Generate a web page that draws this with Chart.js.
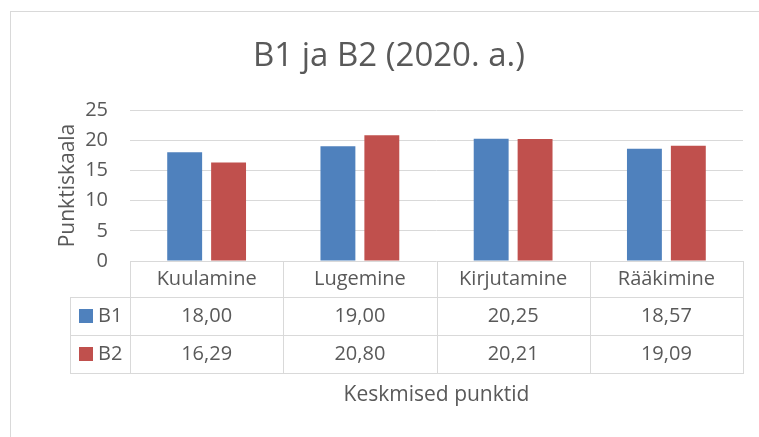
<!DOCTYPE html>
<html>
<head>
<meta charset="utf-8">
<script src="https://cdn.jsdelivr.net/npm/chart.js@4"></script>
<style>
  html, body { margin: 0; padding: 0; background: #fff; }
</style>
</head>
<body>
<canvas id="chart" width="759" height="437"></canvas>
<script>
const categories = ['Kuulamine', 'Lugemine', 'Kirjutamine', 'Rääkimine'];
const seriesNames = ['B1', 'B2'];
const b1Values = [18.00, 19.00, 20.25, 18.57];
const b2Values = [16.29, 20.80, 20.21, 19.09];
const seriesColors = ['#4f81bd', '#c0504d'];
const yTicks = [0, 5, 10, 15, 20, 25];

const lineColor = '#d9d9d9';
const textColor = '#595959';
const fontFamily = "'Open Sans', 'Noto Sans', sans-serif";

Chart.defaults.font.family = fontFamily;
Chart.defaults.color = textColor;

// data table under the plot (Excel style)
const dataTable = {
  id: 'dataTable',
  beforeDraw(chart) {
    const ctx = chart.ctx;
    ctx.save();
    ctx.strokeStyle = lineColor;
    ctx.lineWidth = 1;
    ctx.strokeRect(10.5, 11.5, 760, 440);
    ctx.restore();
  },
  afterDraw(chart) {
    const ctx = chart.ctx;
    const area = chart.chartArea;
    const x = chart.scales.x;
    const rows = [b1Values, b2Values];
    const top = area.bottom;
    const headerH = 36;
    const rowH = 38;
    const legendLeft = 70;
    const bottom = top + headerH + rowH * rows.length;

    const edges = [area.left];
    for (let i = 0; i < categories.length - 1; i++) {
      edges.push((x.getPixelForValue(i) + x.getPixelForValue(i + 1)) / 2);
    }
    edges.push(area.right);

    ctx.save();
    ctx.strokeStyle = lineColor;
    ctx.lineWidth = 1;
    ctx.beginPath();
    edges.forEach(e => {
      const px = Math.round(e) + 0.5;
      ctx.moveTo(px, top);
      ctx.lineTo(px, bottom);
    });
    ctx.moveTo(legendLeft + 0.5, top + headerH);
    ctx.lineTo(legendLeft + 0.5, bottom);
    for (let r = 0; r <= rows.length; r++) {
      const py = Math.round(top + headerH + r * rowH) + 0.5;
      ctx.moveTo(legendLeft, py);
      ctx.lineTo(area.right + 1, py);
    }
    ctx.stroke();

    ctx.font = '20px ' + fontFamily;
    ctx.textBaseline = 'middle';
    rows.forEach((vals, r) => {
      const cy = top + headerH + r * rowH + rowH / 2;
      ctx.fillStyle = seriesColors[r];
      ctx.fillRect(79, Math.round(cy - 7), 14, 14);
      ctx.fillStyle = textColor;
      ctx.textAlign = 'left';
      ctx.fillText(seriesNames[r], 98, cy);
      ctx.textAlign = 'center';
      vals.forEach((v, i) => {
        ctx.fillText(v.toFixed(2).replace('.', ','), x.getPixelForValue(i), cy);
      });
    });
    ctx.restore();
  }
};

new Chart(document.getElementById('chart'), {
  type: 'bar',
  data: {
    labels: categories,
    datasets: [
      { label: seriesNames[0], data: b1Values, backgroundColor: seriesColors[0] },
      { label: seriesNames[1], data: b2Values, backgroundColor: seriesColors[1] }
    ]
  },
  options: {
    responsive: false,
    animation: false,
    devicePixelRatio: 1,
    barPercentage: 0.795,
    categoryPercentage: 0.573,
    layout: { padding: { left: 35, right: 16, top: 0, bottom: 0 } },
    plugins: {
      legend: { display: false },
      tooltip: { enabled: false },
      title: {
        display: true,
        text: 'B1 ja B2 (2020. a.)',
        color: textColor,
        font: { size: 33, weight: 'normal' },
        padding: { top: 37, bottom: 33.4 }
      }
    },
    scales: {
      y: {
        min: 0,
        max: 25,
        afterBuildTicks(scale) { scale.ticks = yTicks.map(v => ({ value: v })); },
        afterFit(scale) { scale.width = 95; },
        ticks: { padding: 22, font: { size: 20 }, color: textColor },
        grid: { color: lineColor, drawTicks: false },
        border: { display: false },
        title: {
          display: true,
          text: 'Punktiskaala',
          color: textColor,
          font: { size: 21 },
          padding: { top: 20, bottom: 0 }
        }
      },
      x: {
        afterFit(scale) { scale.height = 176; },
        ticks: { padding: 6, font: { size: 20 }, color: textColor },
        grid: { display: false, drawTicks: false },
        border: { display: false },
        title: {
          display: true,
          text: 'Keskmised punktid',
          color: textColor,
          font: { size: 21 },
          padding: { top: 0, bottom: 29 }
        }
      }
    }
  },
  plugins: [dataTable]
});
</script>
</body>
</html>
